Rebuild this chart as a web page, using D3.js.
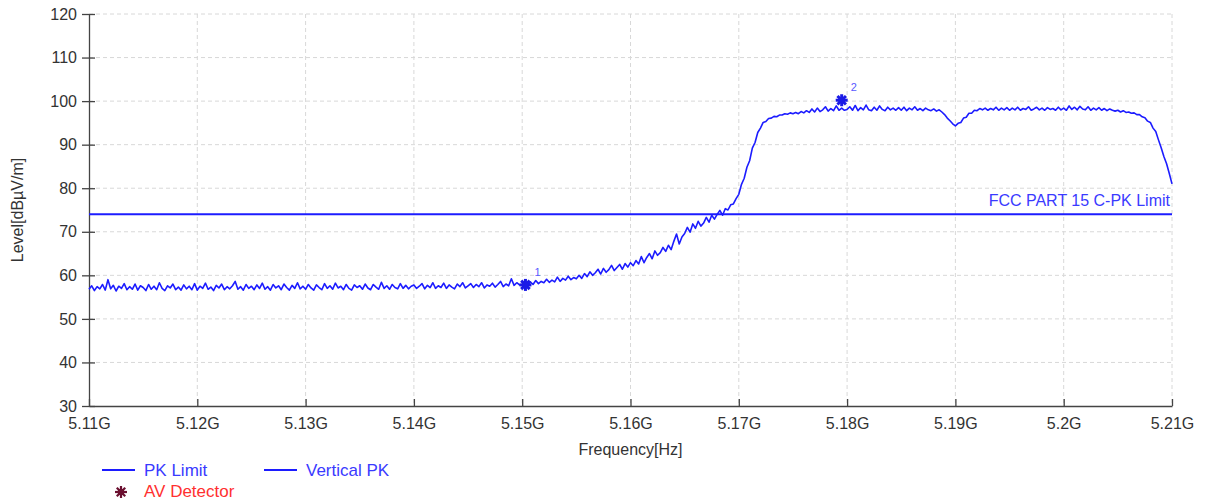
<!DOCTYPE html>
<html>
<head>
<meta charset="utf-8">
<script src="https://cdn.jsdelivr.net/npm/d3@7"></script>
<style>
  body { margin: 0; background: #fff; }
  svg text { font-family: Arial, "Liberation Sans", sans-serif; }
</style>
</head>
<body>
<div id="chart"></div>
<script>
// sweep grid (GHz) - 0.25 MHz per sample
var freqStart = 5.11;
var freqStep = 0.00025;

// Vertical PK trace, dBuV/m, one row per 5 MHz
var levels = [
  56.8, 57.6, 56.5, 57.4, 56.9, 57.9, 56.6, 59.0, 56.9, 57.7, 56.4, 57.5, 57.0, 58.1, 56.7, 57.4, 56.8, 58.0, 56.6, 57.6,
  57.2, 56.5, 57.9, 56.8, 57.5, 56.7, 58.3, 57.0, 56.5, 57.6, 57.1, 58.0, 56.7, 57.3, 56.6, 57.8, 56.9, 57.5, 56.7, 58.1,
  56.6, 57.5, 57.0, 58.2, 56.8, 57.3, 56.5, 57.7, 57.1, 58.0, 56.7, 57.4, 56.9, 57.6, 58.6, 56.8, 57.4, 56.6, 57.9, 57.0,
  57.5, 56.7, 57.8, 57.0, 58.2, 56.8, 57.4, 56.6, 57.9, 57.1, 57.6, 56.7, 58.0, 57.2, 56.6, 57.7, 57.0, 58.3, 56.9, 57.5,
  56.8, 57.9, 57.1, 56.6, 57.8, 57.2, 56.7, 58.1, 57.0, 57.6, 56.8, 58.2, 57.1, 57.5, 56.7, 57.9, 57.0, 56.6, 57.8, 57.2,
  57.6, 56.8, 58.0, 57.1, 56.7, 57.9, 57.3, 56.8, 58.4, 57.0, 57.6, 56.8, 57.9, 57.2, 56.9, 58.1, 57.0, 57.7, 56.9, 57.5,
  57.8, 57.0, 57.5, 58.1, 56.9, 57.7, 57.2, 58.3, 57.0, 57.6, 57.2, 58.2, 57.0, 57.8, 57.3, 56.9, 58.0, 57.4, 58.3, 57.1,
  57.6, 58.1, 57.2, 57.9, 57.4, 58.3, 57.1, 57.8, 57.5, 58.2, 57.3, 57.9, 58.6, 57.4, 58.0, 57.6, 59.2, 57.7, 58.3, 57.8,
  57.8, 58.2, 57.6, 58.5, 57.9, 58.8, 58.1, 58.6, 58.3, 59.1, 58.4, 58.9, 58.5, 59.6, 58.6, 59.3, 58.9, 59.8, 59.0, 59.5,
  59.2, 60.0, 59.3, 60.4, 59.7, 60.8, 60.0, 60.6, 61.4, 60.3, 61.6, 60.7, 61.3, 62.3, 61.1, 61.8, 62.5, 61.4, 62.7, 61.9,
  62.9, 62.2, 63.4, 62.6, 64.3, 62.9, 64.1, 65.0, 63.8, 65.6, 64.6, 65.2, 66.4, 65.5, 66.9, 65.9, 67.8, 69.5, 67.2, 68.8,
  69.6, 71.0, 69.9, 71.8, 70.8, 72.4, 71.3, 72.0, 73.3, 72.2, 73.8, 72.9, 74.0, 74.9, 73.8, 75.3, 75.0, 76.2, 76.4, 77.6,
  78.6, 80.9, 82.3, 84.8, 86.3, 89.2, 90.5, 92.8, 93.8, 95.1, 95.3, 96.0, 96.1, 96.5, 96.4, 96.8, 96.8, 97.1, 97.0, 97.3,
  97.1, 97.4, 97.1, 97.6, 97.3, 97.8, 97.4, 98.2, 97.5, 98.4, 97.6, 98.0, 98.7, 97.7, 98.3, 97.8, 98.9, 97.9, 98.4, 97.9,
  98.1, 98.7, 97.9, 99.0, 97.8, 98.5, 98.0, 99.1, 98.0, 97.8, 98.6, 97.9, 98.9, 98.1, 97.8, 98.6, 98.0, 98.4, 97.9, 98.5,
  97.9, 98.6, 97.8, 98.4, 98.0, 98.7, 97.9, 98.3, 97.8, 98.4, 98.0, 97.8, 98.2, 97.7, 98.0, 97.5, 96.9, 96.1, 95.5, 94.8,
  94.3, 94.9, 95.1, 96.1, 96.3, 97.2, 97.2, 97.9, 97.8, 98.3, 98.0, 98.4, 97.9, 98.3, 98.0, 98.6, 97.9, 98.4, 98.0, 98.5,
  97.9, 98.4, 98.0, 98.6, 97.9, 98.3, 98.1, 98.7, 97.9, 98.2, 98.6, 98.0, 98.4, 97.9, 98.5, 98.1, 98.3, 97.9, 98.6, 98.0,
  98.4, 97.9, 98.9, 98.1, 98.6, 98.0, 98.8, 98.2, 98.0, 98.7, 97.9, 98.4, 98.0, 98.5, 97.9, 98.3, 97.8, 98.2, 97.9, 97.7,
  97.9, 97.5, 97.8, 97.4, 97.5, 97.2, 97.3, 96.9, 96.9, 96.4, 96.2, 95.4, 95.1, 93.8, 93.0, 91.1, 89.3, 87.3, 85.6, 83.4,
  81.0
];

var limitLevel = 74;
var limitLabel = "FCC PART 15 C-PK Limit";

// peak markers
var markerIds = ["1", "2"];
var markerFreqs = [5.1503, 5.1795];
var markerLevels = [57.8, 100.2];

var xTicks = [5.11, 5.12, 5.13, 5.14, 5.15, 5.16, 5.17, 5.18, 5.19, 5.2, 5.21];
var yTicks = [30, 40, 50, 60, 70, 80, 90, 100, 110, 120];

var legendNames = ["PK Limit", "Vertical PK", "AV Detector"];

var margin = {top: 14, right: 41, bottom: 98, left: 89},
    width = 1213 - margin.left - margin.right,
    height = 504 - margin.top - margin.bottom;

var blue = "#1c1cff";
var textGray = "#333";

var svg = d3.select("#chart").append("svg")
  .attr("width", 1213)
  .attr("height", 504);

var g = svg.append("g")
  .attr("transform", "translate(" + margin.left + "," + margin.top + ")");

var x = d3.scaleLinear().domain([5.11, 5.21]).range([0, width]);
var y = d3.scaleLinear().domain([30, 120]).range([height, 0]);

// grid
g.selectAll(".hgrid")
  .data(yTicks.slice(1))
  .enter().append("line")
  .attr("x1", 0).attr("x2", width)
  .attr("y1", function(d) { return y(d); })
  .attr("y2", function(d) { return y(d); })
  .attr("stroke", "#d8d8d8")
  .attr("stroke-dasharray", "4,3");

g.selectAll(".vgrid")
  .data(xTicks.slice(1))
  .enter().append("line")
  .attr("y1", 0).attr("y2", height)
  .attr("x1", function(d) { return x(d); })
  .attr("x2", function(d) { return x(d); })
  .attr("stroke", "#d8d8d8")
  .attr("stroke-dasharray", "4,3");

// axes
var yAxis = g.append("g")
  .call(d3.axisLeft(y).tickValues(yTicks).tickSize(7).tickSizeOuter(0).tickPadding(5));
yAxis.selectAll(".tick line").attr("x2", -7).attr("x1", 6);

var xAxis = g.append("g")
  .attr("transform", "translate(0," + height + ")")
  .call(d3.axisBottom(x).tickValues(xTicks).tickSize(-7).tickSizeOuter(0).tickPadding(12)
    .tickFormat(function(d) { return d3.format(".3~f")(d) + "G"; }));

[xAxis, yAxis].forEach(function(a) {
  a.select(".domain").attr("stroke", "#444").attr("stroke-width", 1.3);
  a.selectAll(".tick line").attr("stroke", "#444").attr("stroke-width", 1.3);
  a.selectAll(".tick text").attr("fill", textGray).style("font-size", "16px");
});

// axis titles
svg.append("text")
  .attr("x", margin.left + x(5.16))
  .attr("y", 455)
  .attr("text-anchor", "middle")
  .attr("fill", textGray)
  .style("font-size", "16px")
  .text("Frequency[Hz]");

svg.append("text")
  .attr("transform", "translate(23,210) rotate(-90)")
  .attr("text-anchor", "middle")
  .attr("fill", textGray)
  .style("font-size", "16px")
  .text("Level[dBµV/m]");

// limit line
g.append("line")
  .attr("x1", 0).attr("x2", width)
  .attr("y1", y(limitLevel)).attr("y2", y(limitLevel))
  .attr("stroke", blue)
  .attr("stroke-width", 2);

g.append("text")
  .attr("x", width - 2)
  .attr("y", y(limitLevel) - 8)
  .attr("text-anchor", "end")
  .attr("fill", "#3a3aff")
  .style("font-size", "16px")
  .text(limitLabel);

// trace
var trace = levels.map(function(v, i) { return [freqStart + i * freqStep, v]; });
var line = d3.line()
  .x(function(d) { return x(d[0]); })
  .y(function(d) { return y(d[1]); });

g.append("path")
  .datum(trace)
  .attr("fill", "none")
  .attr("stroke", blue)
  .attr("stroke-width", 1.6)
  .attr("stroke-linejoin", "round")
  .attr("d", line);

// asterisk marker: four short strokes through the centre
function star(sel, cx, cy, r, w, color) {
  var s = sel.append("g").attr("transform", "translate(" + cx + "," + cy + ")");
  [0, 45, 90, 135].forEach(function(a) {
    s.append("line")
      .attr("x1", -r).attr("x2", r)
      .attr("y1", 0).attr("y2", 0)
      .attr("transform", "rotate(" + a + ")")
      .attr("stroke", color)
      .attr("stroke-width", w);
  });
  s.append("circle").attr("r", r * 0.55).attr("fill", color);
}

markerIds.forEach(function(id, i) {
  var mx = x(markerFreqs[i]), my = y(markerLevels[i]);
  star(g, mx, my, 6, 3, "#1a1ae6");
  g.append("text")
    .attr("x", mx + 9)
    .attr("y", my - 9)
    .attr("fill", "#5a5aff")
    .style("font-size", "11px")
    .text(id);
});

// legend
var leg = svg.append("g");
[[102, 470, 0], [264, 470, 1]].forEach(function(p) {
  leg.append("line")
    .attr("x1", p[0]).attr("x2", p[0] + 33)
    .attr("y1", p[1]).attr("y2", p[1])
    .attr("stroke", blue).attr("stroke-width", 2);
  leg.append("text")
    .attr("x", p[0] + 42)
    .attr("y", p[1] + 6)
    .attr("fill", "#3a3aff")
    .style("font-size", "17px")
    .text(legendNames[p[2]]);
});
star(leg, 121, 492, 6, 2.2, "#6b1030");
leg.append("text")
  .attr("x", 144)
  .attr("y", 497)
  .attr("fill", "#ff3030")
  .style("font-size", "17px")
  .text(legendNames[2]);
</script>
</body>
</html>
